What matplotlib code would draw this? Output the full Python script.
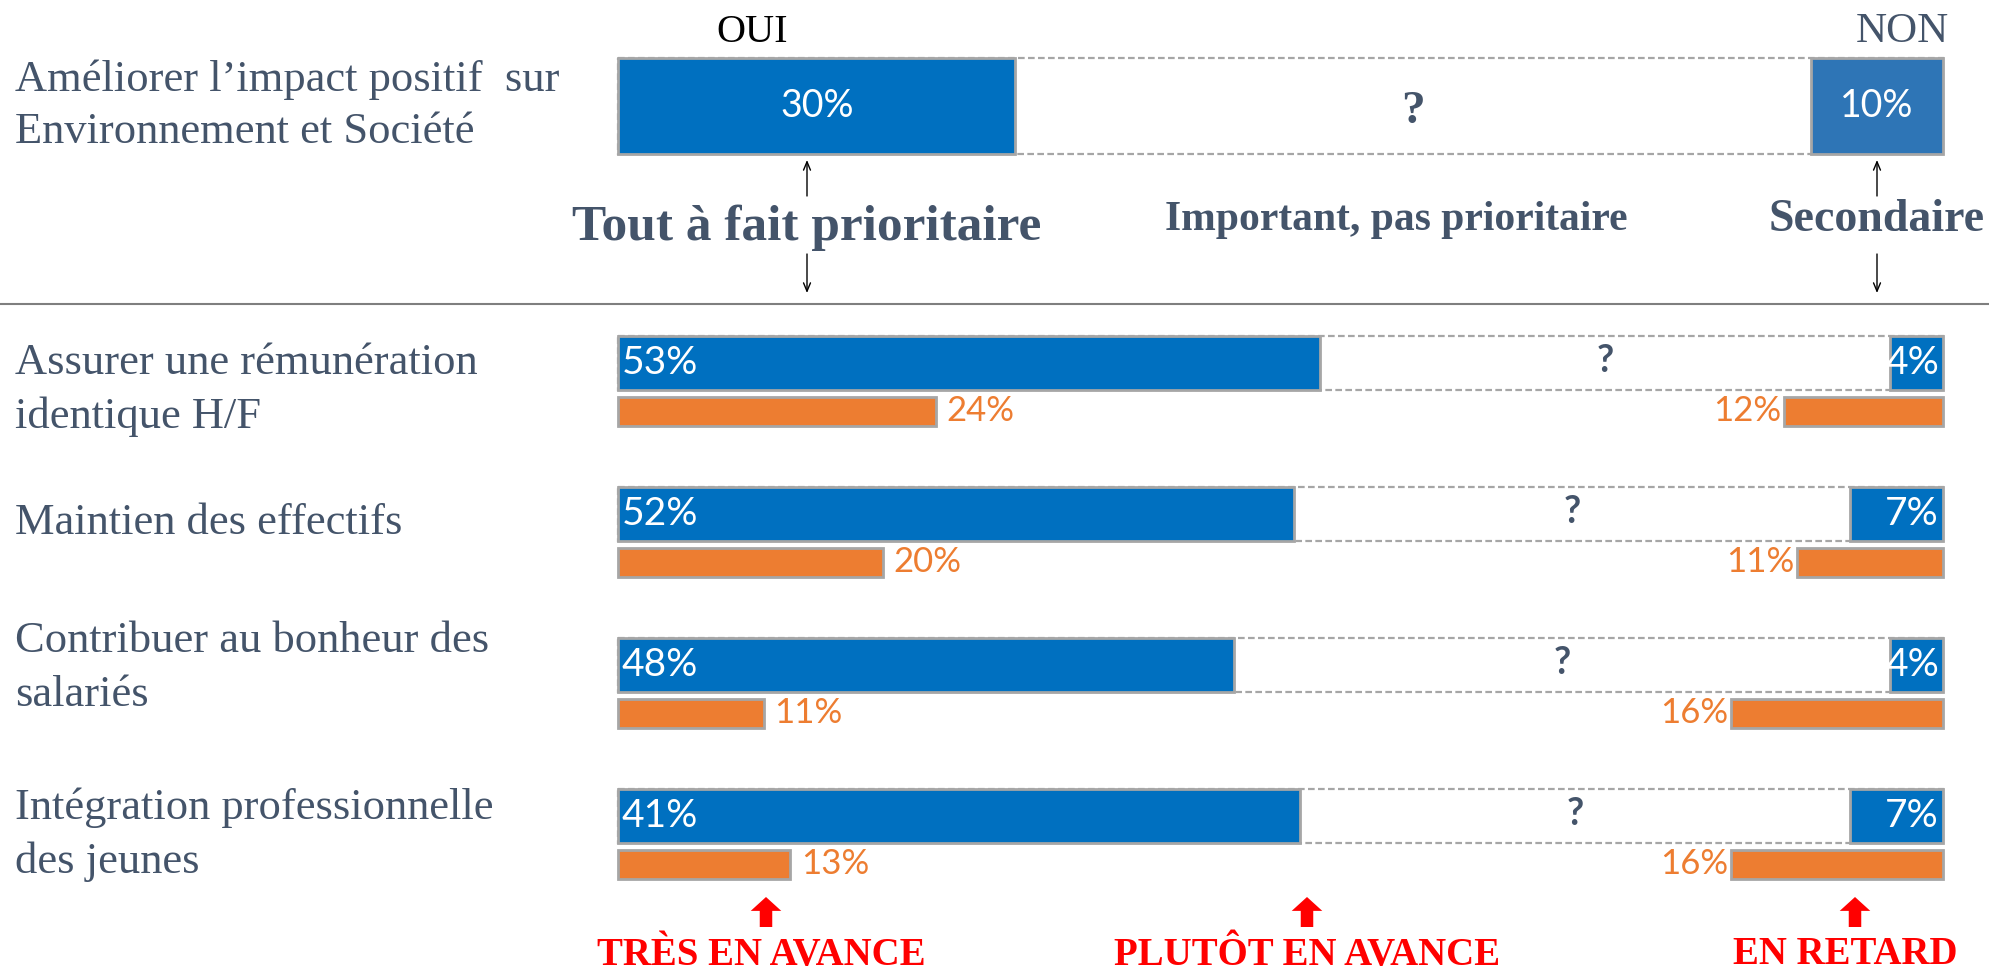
import matplotlib.pyplot as plt
from matplotlib.patches import Rectangle

# Data
top_label = "Améliorer l’impact positif  sur\nEnvironnement et Société"
top_oui = 30
top_non = 10

categories = ["Assurer une rémunération\nidentique H/F",
              "Maintien des effectifs",
              "Contribuer au bonheur des\nsalariés",
              "Intégration professionnelle\ndes jeunes"]
oui = [53, 52, 48, 41]            # labels of blue bars (left)
oui_bar = [53, 51, 46.5, 51.5]    # blue bar lengths as drawn in the source
non = [4, 7, 4, 7]                # blue bars (right)
avance = [24, 20, 11, 13]         # orange bars (left)
retard = [12, 11, 16, 16]         # orange bars (right)

priorities = ["Tout à fait prioritaire", "Important, pas prioritaire", "Secondaire"]
states = ["TRÈS EN AVANCE", "PLUTÔT EN AVANCE", "EN RETARD"]

BLUE = '#0070C0'
BLUE2 = '#2E75B6'
ORANGE = '#ED7D31'
EDGE = '#A6A6A6'
SLATE = '#44546A'
SERIF = 'Liberation Serif'
SANS = 'Lato'

# layout: x in percent (0..100 = bar span), y in pixels from top
X0, PX = 618, 13.25
def fx(p):
    return (p - X0) / PX

fig = plt.figure(figsize=(19.89, 9.73), dpi=100)
ax = fig.add_axes([0, 0, 1, 1])
ax.set_xlim(fx(0), fx(1989))
ax.set_ylim(973, 0)
ax.axis('off')

def frame(y, h):
    ax.add_patch(Rectangle((0, y - h / 2), 100, h, fill=False, ec=EDGE,
                           lw=1.6, ls=(0, (3, 1.5)), zorder=1))

# ---- top block ----
ty, th = 106, 96
frame(ty, th)
ax.barh(ty, top_oui, height=th, left=0, color=BLUE, edgecolor=EDGE, lw=2, zorder=2)
ax.barh(ty, top_non, height=th, left=100 - top_non, color=BLUE2, edgecolor=EDGE, lw=2, zorder=2)
ax.text(top_oui / 2, ty, f"{top_oui}%", color='white', fontsize=27, family=SANS,
        ha='center', va='center', zorder=3)
ax.text(100 - top_non / 2, ty, f"{top_non}%", color='white', fontsize=27, family=SANS,
        ha='center', va='center', zorder=3)
ax.text((top_oui + 100 - top_non) / 2, ty + 6, "?", color=SLATE, fontsize=34, family=SERIF,
        weight='bold', ha='center', va='center', zorder=3)
ax.text(fx(15), 106, top_label, color=SLATE, fontsize=32, family=SERIF,
        ha='left', va='center', linespacing=1.38)
ax.text(fx(752), 32, "OUI", color='black', fontsize=29, family=SERIF, ha='center', va='center')
ax.text(fx(1902), 32, "NON", color=SLATE, fontsize=31, family=SERIF, ha='center', va='center')

px_prio = [807, 1396, 1877]
py_prio = [228, 220, 220]
size_prio = [37, 30, 33]
for name, p, py, s in zip(priorities, px_prio, py_prio, size_prio):
    ax.text(fx(p), py, name, color=SLATE, fontsize=s, family=SERIF, weight='bold',
            ha='center', va='center')
for p in (px_prio[0], px_prio[2]):
    ax.annotate('', xy=(fx(p), 160), xytext=(fx(p), 196),
                arrowprops=dict(arrowstyle='->,head_length=0.6,head_width=0.25',
                                color='black', lw=1, shrinkA=0, shrinkB=0))
    ax.annotate('', xy=(fx(p), 293), xytext=(fx(p), 254),
                arrowprops=dict(arrowstyle='->,head_length=0.6,head_width=0.25',
                                color='black', lw=1, shrinkA=0, shrinkB=0))

ax.plot([fx(0), fx(1989)], [304, 304], color='#7F7F7F', lw=1.5)

# ---- rows ----
row0, step = 363, 151
bh, oh, odist = 54, 29, 48
label_y = [390, 523, 668, 835]
for i, cat in enumerate(categories):
    y = row0 + i * step
    yo = y + odist
    frame(y, bh)
    ax.barh(y, oui_bar[i], height=bh, left=0, color=BLUE, edgecolor=EDGE, lw=2, zorder=2)
    ax.barh(y, non[i], height=bh, left=100 - non[i], color=BLUE, edgecolor=EDGE, lw=2, zorder=2)
    ax.text(0.3, y, f"{oui[i]}%", color='white', fontsize=28, family=SANS,
            ha='left', va='center', zorder=3)
    ax.text(99.7, y, f"{non[i]}%", color='white', fontsize=28, family=SANS,
            ha='right', va='center', zorder=3)
    ax.text((oui_bar[i] + 100 - non[i]) / 2, y - 2, "?", color=SLATE, fontsize=27,
            family=SANS, weight='bold', ha='center', va='center', zorder=3)
    ax.barh(yo, avance[i], height=oh, left=0, color=ORANGE, edgecolor=EDGE, lw=2, zorder=2)
    ax.barh(yo, retard[i], height=oh, left=100 - retard[i], color=ORANGE, edgecolor=EDGE,
            lw=2, zorder=2)
    ax.text(avance[i] + 0.8, yo, f"{avance[i]}%", color=ORANGE, fontsize=25, family=SANS,
            ha='left', va='center')
    ax.text(100 - retard[i] - 0.2, yo, f"{retard[i]}%", color=ORANGE, fontsize=25,
            family=SANS, ha='right', va='center')
    ax.text(fx(15), label_y[i], cat, color=SLATE, fontsize=32, family=SERIF,
            ha='left', va='center', linespacing=1.42)

# ---- bottom red markers ----
px_state = [766, 1307, 1855]
px_text = [761, 1307, 1845]
for name, p, pt in zip(states, px_state, px_text):
    ax.annotate('', xy=(fx(p), 897), xytext=(fx(p), 927),
                arrowprops=dict(arrowstyle='simple,head_length=0.5,head_width=1.1,tail_width=0.45',
                                color='red', lw=0, shrinkA=0, shrinkB=0, mutation_scale=20))
    ax.text(fx(pt), 955, name, color='red', fontsize=28, family=SERIF, weight='bold',
            ha='center', va='center')

fig.savefig('out.png', dpi=100)
